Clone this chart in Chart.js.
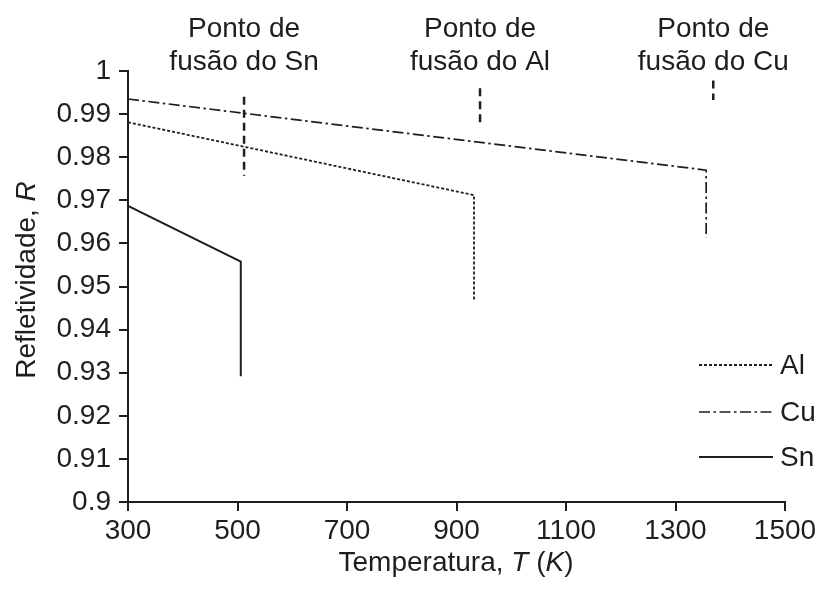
<!DOCTYPE html>
<html>
<head>
<meta charset="utf-8">
<script src="https://cdn.jsdelivr.net/npm/chart.js@4"></script>
<style>
  html, body { margin: 0; padding: 0; background: #fff; }
  #wrap { width: 822px; height: 591px; }
</style>
</head>
<body>
<div id="wrap"><canvas id="c" width="822" height="591"></canvas></div>
<script>
// ---- data ----
const alT = [300, 932, 932];
const alR = [0.9881, 0.9712, 0.9469];
const cuT = [300, 1356, 1356];
const cuR = [0.9935, 0.9770, 0.9613];
const snT = [300, 506, 506];
const snR = [0.9687, 0.9558, 0.9292];

// melting-point markers (short vertical dashed lines)
const mpT = [512, 943, 1369];
const mpTop = [0.9940, 0.9960, 0.9978];
const mpBottom = [0.9757, 0.9872, 0.9933];
const mpLabels = [["Ponto de", "fusão do Sn"], ["Ponto de", "fusão do Al"], ["Ponto de", "fusão do Cu"]];

const seriesNames = ["Al", "Cu", "Sn"];
const xTicks = [300, 500, 700, 900, 1100, 1300, 1500];
const yMin = 0.9, yMax = 1.0, yStep = 0.01;

const INK = '#1e1e1e';
const FONT = "'Liberation Sans', Arial, sans-serif";
const FS = 28;

function pts(xs, ys) { return xs.map((x, i) => ({ x: x, y: ys[i] })); }

const styles = {
  Al: { borderDash: [3, 2], borderWidth: 1.8 },
  Cu: { borderDash: [11, 3.5, 2.5, 3.5], borderWidth: 1.7 },
  Sn: { borderDash: [], borderWidth: 2 }
};

const datasets = [
  Object.assign({ label: 'Al', data: pts(alT, alR) }, styles.Al),
  Object.assign({ label: 'Cu', data: pts(cuT, cuR) }, styles.Cu),
  Object.assign({ label: 'Sn', data: pts(snT, snR) }, styles.Sn)
];
mpT.forEach((t, i) => {
  datasets.push({
    label: 'mp' + i,
    data: [{ x: t, y: mpTop[i] }, { x: t, y: mpBottom[i] }],
    borderDash: [8, 5],
    borderWidth: 2.5
  });
});
datasets.forEach(d => {
  d.showLine = true; d.pointRadius = 0; d.pointHoverRadius = 0;
  d.borderColor = INK; d.backgroundColor = INK; d.fill = false; d.tension = 0;
});

const decor = {
  id: 'decor',
  afterDraw(chart) {
    const ctx = chart.ctx;
    const xs = chart.scales.x;
    const area = chart.chartArea;
    ctx.save();
    ctx.fillStyle = INK;
    ctx.textBaseline = 'alphabetic';

    // melting point labels
    ctx.font = FS + 'px ' + FONT;
    ctx.textAlign = 'center';
    mpT.forEach((t, i) => {
      const px = xs.getPixelForValue(t);
      ctx.fillText(mpLabels[i][0], px, 37);
      ctx.fillText(mpLabels[i][1], px, 70);
    });

    // legend inside plot
    const legY = [365, 412, 457];
    const lx0 = 699, lx1 = 773;
    seriesNames.forEach((n, i) => {
      const st = styles[n];
      ctx.save();
      ctx.strokeStyle = INK;
      ctx.lineWidth = st.borderWidth;
      ctx.setLineDash(st.borderDash);
      ctx.beginPath();
      ctx.moveTo(lx0, legY[i]);
      ctx.lineTo(lx1, legY[i]);
      ctx.stroke();
      ctx.restore();
      ctx.textAlign = 'left';
      ctx.textBaseline = 'middle';
      ctx.font = FS + 'px ' + FONT;
      ctx.fillText(n, 780, legY[i] + 1);
    });

    // x axis title with italic parts
    const xParts = [["Temperatura, ", false], ["T", true], [" (", false], ["K", true], [")", false]];
    drawMixed(ctx, xParts, 456, 571);

    // y axis title (rotated)
    const yParts = [["Refletividade, ", false], ["R", true]];
    ctx.save();
    ctx.translate(35, 280);
    ctx.rotate(-Math.PI / 2);
    drawMixed(ctx, yParts, 0, 0);
    ctx.restore();

    ctx.restore();
  }
};

function drawMixed(ctx, parts, cx, y) {
  const fonts = parts.map(p => (p[1] ? 'italic ' : '') + FS + 'px ' + FONT);
  let total = 0;
  const widths = parts.map((p, i) => { ctx.font = fonts[i]; const w = ctx.measureText(p[0]).width; total += w; return w; });
  let x = cx - total / 2;
  ctx.textAlign = 'left';
  ctx.textBaseline = 'alphabetic';
  parts.forEach((p, i) => { ctx.font = fonts[i]; ctx.fillText(p[0], x, y); x += widths[i]; });
}

new Chart(document.getElementById('c'), {
  type: 'scatter',
  data: { datasets: datasets },
  options: {
    responsive: false,
    animation: false,
    events: [],
    layout: { padding: { top: 71, right: 37, left: 0, bottom: 0 } },
    plugins: { legend: { display: false }, tooltip: { enabled: false }, title: { display: false } },
    scales: {
      x: {
        type: 'linear', min: xTicks[0], max: xTicks[xTicks.length - 1],
        afterBuildTicks(scale) { scale.ticks = xTicks.map(v => ({ value: v })); },
        afterFit(scale) { scale.height = 89; },
        ticks: { color: INK, font: { family: FONT, size: FS }, padding: 3, maxRotation: 0, autoSkip: false,
                 callback: v => String(v) },
        grid: { drawOnChartArea: false, drawTicks: true, tickLength: 9, color: INK, lineWidth: 2 },
        border: { display: true, color: INK, width: 2 }
      },
      y: {
        type: 'linear', min: yMin, max: yMax,
        ticks: { stepSize: yStep, color: INK, font: { family: FONT, size: FS }, padding: 8, autoSkip: false,
                 callback: v => String(Number(v.toFixed(2))) },
        afterFit(scale) { scale.width = 128; },
        grid: { drawOnChartArea: false, drawTicks: true, tickLength: 9, color: INK, lineWidth: 2 },
        border: { display: true, color: INK, width: 2 }
      }
    }
  },
  plugins: [decor]
});
</script>
</body>
</html>
